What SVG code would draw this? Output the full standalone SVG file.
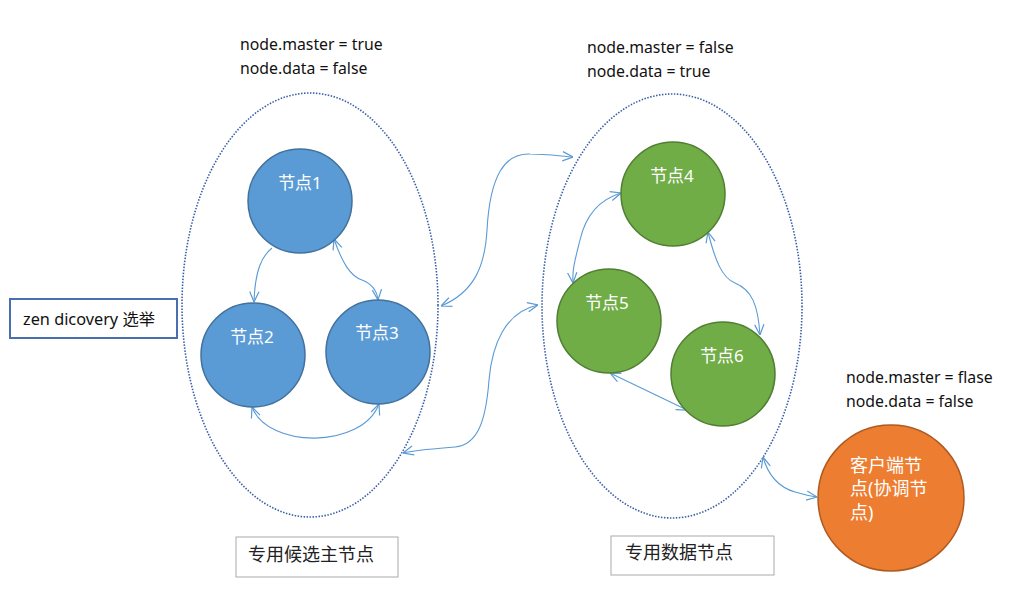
<svg xmlns="http://www.w3.org/2000/svg" width="1024" height="608" viewBox="0 0 1024 608">
<style>
.lbl{font-family:"Noto Sans","Liberation Sans",sans-serif;font-size:15.8px;fill:#111}
.zt{font-family:"Noto Sans","Noto Sans CJK SC",sans-serif;font-size:16.3px;fill:#111}
.nt{font-family:"Noto Sans","Noto Sans CJK SC",sans-serif;font-size:17px;fill:#ffffff;text-anchor:middle}
.ct{font-family:"Noto Sans","Noto Sans CJK SC",sans-serif;font-size:18px;fill:#ffffff}
.bt{font-family:"Noto Sans CJK SC",sans-serif;font-size:18px;fill:#222}
.grp{fill:none;stroke:#3a5fa8;stroke-width:1.6;stroke-dasharray:1.5 1.5}
.blue{fill:#5b9bd5;stroke:#41719c;stroke-width:1.5}
.green{fill:#70ad47;stroke:#507e32;stroke-width:1.5}
.orange{fill:#ed7d31;stroke:#ae5a21;stroke-width:1.5}
.con{fill:none;stroke:#5b9bd5;stroke-width:1.1}
</style>
<defs>
<marker id="ah" viewBox="0 0 10 10" refX="10" refY="5" markerWidth="11" markerHeight="11" markerUnits="userSpaceOnUse" orient="auto-start-reverse">
<path d="M0.5,0.8 L10,5 L0.5,9.2" fill="none" stroke="#5b9bd5" stroke-width="1.1"/>
</marker>
</defs>
<rect width="1024" height="608" fill="#ffffff"/>

<g id="labels">
<text class="lbl" x="240" y="50">node.master = true</text>
<text class="lbl" x="240" y="74">node.data = false</text>
<text class="lbl" x="587" y="53">node.master = false</text>
<text class="lbl" x="587" y="77">node.data = true</text>
<text class="lbl" x="846" y="383">node.master = flase</text>
<text class="lbl" x="846" y="407">node.data = false</text>
</g>

<g id="group-master"><ellipse class="grp" cx="310" cy="305" rx="128" ry="212"/></g>
<g id="group-data"><ellipse class="grp" cx="672" cy="306" rx="130" ry="212"/></g>

<g id="connectors">
<path class="con" marker-end="url(#ah)" d="M272,248 C262,256 255,270 254,302"/>
<path class="con" marker-start="url(#ah)" marker-end="url(#ah)" d="M334,239 C342,262 350,276 362,280 C372,284 377,290 378,300"/>
<path class="con" marker-start="url(#ah)" marker-end="url(#ah)" d="M252,407 C268,449 362,449 379,404"/>
<path class="con" marker-start="url(#ah)" marker-end="url(#ah)" d="M441,306 C475,292 485,265 487,230 C490,175 505,153 530,154 C545,154 560,156 573,157"/>
<path class="con" marker-start="url(#ah)" marker-end="url(#ah)" d="M538,305 C505,312 492,345 489,380 C486,420 478,445 455,447 C430,449 415,450 403,453"/>
<path class="con" marker-start="url(#ah)" marker-end="url(#ah)" d="M621,193 C598,200 585,218 580,240 C575,260 572,270 573,283"/>
<path class="con" marker-start="url(#ah)" marker-end="url(#ah)" d="M708,232 C715,260 722,278 735,283 C752,290 758,305 760,335"/>
<path class="con" marker-start="url(#ah)" marker-end="url(#ah)" d="M610,373 L687,410"/>
<path class="con" marker-start="url(#ah)" marker-end="url(#ah)" d="M763,457 C768,475 778,487 795,492 C805,495 810,496 817,497"/>
</g>

<g id="node1"><circle class="blue" cx="300" cy="201" r="52"/><text class="nt" x="300" y="189">节点1</text></g>
<g id="node2"><circle class="blue" cx="253" cy="355" r="52"/><text class="nt" x="252" y="343">节点2</text></g>
<g id="node3"><circle class="blue" cx="378" cy="352" r="52"/><text class="nt" x="377" y="339">节点3</text></g>
<g id="node4"><circle class="green" cx="673" cy="194" r="52"/><text class="nt" x="672" y="182">节点4</text></g>
<g id="node5"><circle class="green" cx="609" cy="321" r="52"/><text class="nt" x="607" y="309">节点5</text></g>
<g id="node6"><circle class="green" cx="723" cy="374" r="52"/><text class="nt" x="722" y="362">节点6</text></g>
<g id="client"><circle class="orange" cx="891" cy="498" r="73"/>
<text class="ct" x="850" y="472">客户端节</text>
<text class="ct" x="850" y="495">点(协调节</text>
<text class="ct" x="850" y="519">点)</text>
</g>

<g id="zen"><rect x="10" y="299" width="167" height="39" fill="#fff" stroke="#4a6fb0" stroke-width="2"/>
<text class="zt" x="23" y="325">zen dicovery 选举</text></g>

<g id="box-master"><rect x="236" y="537" width="162" height="40" fill="#fff" stroke="#aaaaaa" stroke-width="1"/>
<text class="bt" x="248" y="561">专用候选主节点</text></g>
<g id="box-data"><rect x="611" y="536" width="163" height="39" fill="#fff" stroke="#aaaaaa" stroke-width="1"/>
<text class="bt" x="625" y="559">专用数据节点</text></g>
</svg>
